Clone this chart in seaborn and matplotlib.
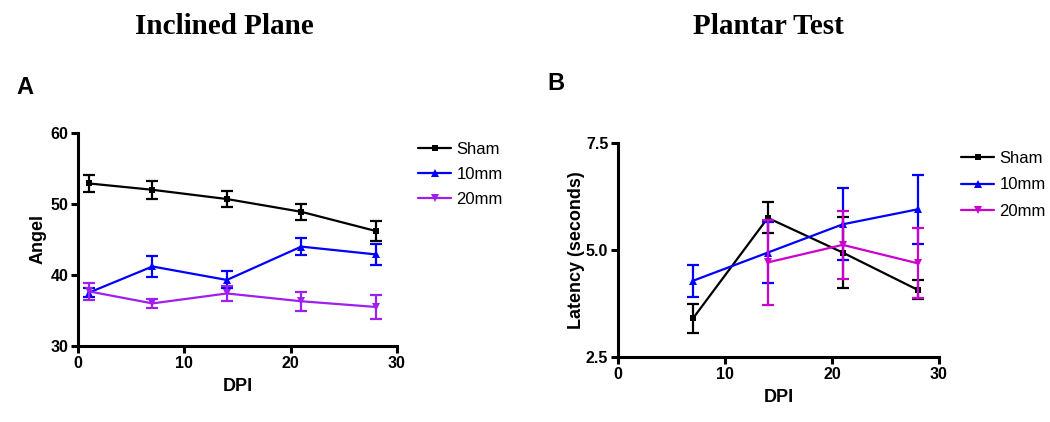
import matplotlib
matplotlib.use("Agg")
import matplotlib.pyplot as plt
import seaborn as sns
import pandas as pd
import numpy as np

sns.set_theme(style="ticks")
plt.rcParams['font.family'] = ['Liberation Sans', 'DejaVu Sans']
plt.rcParams['text.color'] = 'black'
plt.rcParams['axes.labelcolor'] = 'black'
plt.rcParams['xtick.color'] = 'black'
plt.rcParams['ytick.color'] = 'black'
plt.rcParams['axes.edgecolor'] = 'black'

# ---------------- data ----------------
groups = ["Sham", "10mm", "20mm"]

# Panel A: Inclined Plane (Angel)
dpi_a = [1, 7, 14, 21, 28]
angle_sham = [52.9, 52.0, 50.7, 48.9, 46.2]
angle_sham_err = [1.2, 1.3, 1.1, 1.1, 1.4]
angle_10 = [37.5, 41.2, 39.3, 44.0, 42.9]
angle_10_err = [0.6, 1.5, 1.2, 1.2, 1.5]
angle_20 = [37.7, 36.0, 37.4, 36.3, 35.5]
angle_20_err = [1.2, 0.6, 1.0, 1.3, 1.75]

# Panel B: Plantar Test (Latency)
dpi_b = [7, 14, 21, 28]
lat_sham = [3.40, 5.75, 4.94, 4.07]
lat_sham_err = [0.35, 0.36, 0.82, 0.22]
lat_10 = [4.28, 4.94, 5.60, 5.95]
lat_10_err = [0.38, 0.72, 0.84, 0.80]
dpi_b20 = [14, 21, 28]
lat_20 = [4.71, 5.12, 4.69]
lat_20_err = [0.99, 0.80, 0.82]

titles = ["Inclined Plane", "Plantar Test"]
panel_letters = ["A", "B"]

colors_a = {"Sham": "#000000", "10mm": "#0000FF", "20mm": "#9F1FEF"}
colors_b = {"Sham": "#000000", "10mm": "#0000FF", "20mm": "#CC00CC"}
markers = {"Sham": "s", "10mm": "^", "20mm": "v"}

fig = plt.figure(figsize=(10.5, 4.22), dpi=100)
axA = fig.add_axes([78/1050, 1-346/422, (397-78)/1050, (346-133)/422])
axB = fig.add_axes([618/1050, 1-357/422, (939-618)/1050, (357-143)/422])


def draw(ax, series, colors):
    for name, x, y, e in series:
        df = pd.DataFrame({"DPI": x, "val": y})
        sns.lineplot(data=df, x="DPI", y="val", ax=ax, color=colors[name],
                     marker=markers[name], markersize=5 if name == "Sham" else 6,
                     markeredgewidth=0, linewidth=1.6, label=name)
        ax.errorbar(x, y, yerr=e, fmt="none", ecolor=colors[name],
                    elinewidth=1.6, capsize=4, capthick=1.6)


draw(axA, [("Sham", dpi_a, angle_sham, angle_sham_err),
           ("10mm", dpi_a, angle_10, angle_10_err),
           ("20mm", dpi_a, angle_20, angle_20_err)], colors_a)
draw(axB, [("Sham", dpi_b, lat_sham, lat_sham_err),
           ("10mm", dpi_b, lat_10, lat_10_err),
           ("20mm", dpi_b20, lat_20, lat_20_err)], colors_b)

for ax in (axA, axB):
    ax.set_xlim(0, 30)
    ax.set_xticks([0, 10, 20, 30])
    for s in ("top", "right"):
        ax.spines[s].set_visible(False)
    for s in ("left", "bottom"):
        ax.spines[s].set_linewidth(2.2)
        ax.spines[s].set_color("black")
    ax.tick_params(axis="both", direction="out", length=5, width=2.2,
                   colors="black", labelsize=11.5, pad=2)
    for lbl in ax.get_xticklabels() + ax.get_yticklabels():
        lbl.set_fontweight("bold")
    ax.set_xlabel("DPI", fontsize=13, fontweight="bold", labelpad=5)
    ax.set_facecolor("white")

axA.set_ylim(30, 60)
axA.set_yticks([30, 40, 50, 60])
axA.set_ylabel("Angel", fontsize=13, fontweight="bold", labelpad=2.5)
axB.set_ylim(2.5, 7.5)
axB.set_yticks([2.5, 5.0, 7.5])
axB.set_yticklabels(["2.5", "5.0", "7.5"], fontweight="bold")
axB.set_ylabel("Latency (seconds)", fontsize=13, fontweight="bold", labelpad=1)

for ax, anchor, sp in ((axA, (418/1050, 1-142/422), 0.6),
                       (axB, (961/1050, 1-151/422), 0.68)):
    leg = ax.legend(loc="upper left", bbox_to_anchor=anchor,
                    bbox_transform=fig.transFigure, frameon=False,
                    fontsize=12, handlelength=2.0, handletextpad=0.3,
                    labelspacing=sp, borderaxespad=0, borderpad=0)

fig.text(224/1050, 1-26/422, titles[0], ha="center", va="center", color="black",
         fontsize=21, fontweight="bold", family=["Liberation Serif", "DejaVu Serif"])
fig.text(768/1050, 1-26/422, titles[1], ha="center", va="center", color="black",
         fontsize=21, fontweight="bold", family=["Liberation Serif", "DejaVu Serif"])
fig.text(25/1050, 1-88/422, panel_letters[0], ha="center", va="center",
         fontsize=17, fontweight="bold", color="black")
fig.text(556/1050, 1-83/422, panel_letters[1], ha="center", va="center",
         fontsize=17, fontweight="bold", color="black")

fig.savefig("out.png", dpi=100, facecolor="white")
